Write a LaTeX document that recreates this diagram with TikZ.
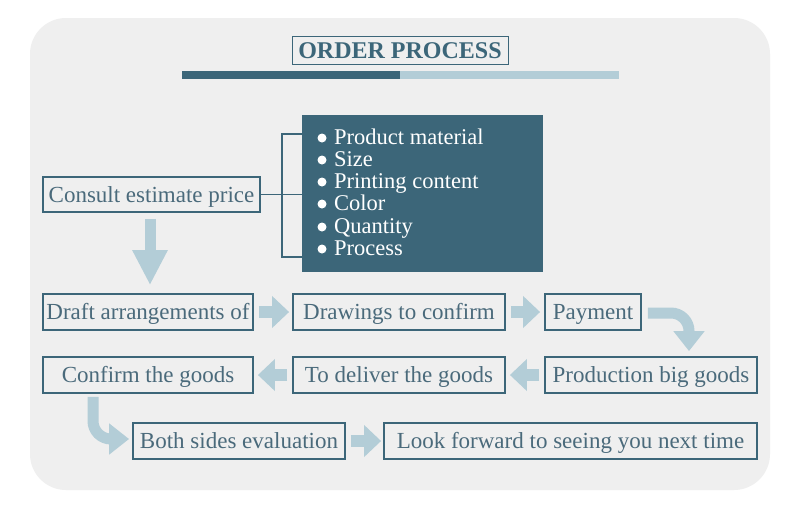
\documentclass[tikz,border=0pt]{standalone}
\usepackage{fontspec}
\setmainfont{Liberation Serif}
\usetikzlibrary{arrows.meta}
\definecolor{darkc}{HTML}{3C6679}
\definecolor{textc}{HTML}{4A6A7B}
\definecolor{lightc}{HTML}{B3CDD7}
\definecolor{bgc}{HTML}{EFEFEF}
\tikzset{
  stepbox/.style={draw=darkc, line width=1.8pt, fill=bgc, inner sep=0pt, text=textc,
    font=\fontsize{23}{26}\selectfont, anchor=center, text height=17pt, text depth=2pt},
  fatarrow/.style={draw=lightc, line width=12pt, line cap=butt,
    -{Triangle[width=31pt,length=17pt]}},
  bentarrow/.style={draw=lightc, line width=11pt, line cap=butt, rounded corners=18pt,
    -{Triangle[width=30pt,length=20pt]}},
  bullettext/.style={text=white, font=\fontsize{22.5}{26}\selectfont, anchor=base west, inner sep=0pt},
  dot/.style={circle, fill=white, minimum size=9pt, inner sep=0pt}
}
\begin{document}
\begin{tikzpicture}[x=1pt,y=-1pt]
\useasboundingbox (0,0) rectangle (800,507);
\fill[white] (0,0) rectangle (800,507);
\fill[bgc, rounded corners=36pt] (30,18) rectangle (770,490);

% title
\node[draw=darkc, line width=1pt, inner sep=0pt, minimum width=216pt, minimum height=28pt,
  text=darkc, font=\fontsize{24}{26}\selectfont\bfseries, text height=16pt, text depth=0pt] (title) at (400,50) {ORDER PROCESS};
\fill[darkc] (182,71) rectangle (400,79);
\fill[lightc] (400,71) rectangle (619,79);

% consult and list
\node[stepbox, minimum width=217pt, minimum height=35pt] (consult) at (151.5,194.5) {Consult estimate price};
\node[fill=darkc, minimum width=241pt, minimum height=157pt, inner sep=0pt] (list) at (422.5,193.5) {};
\coordinate (brk) at (282,0);
\coordinate (ltop) at (302,134);
\coordinate (lbot) at (302,257);
\draw[darkc, line width=1.8pt] (ltop) -- (ltop -| brk) -- (lbot -| brk) -- (lbot);
\draw[darkc, line width=1.8pt] (consult.east) -- (consult.east -| list.west);
\foreach \t/\y [count=\i] in {Product material/138, Size/160, Printing content/182, Color/204, Quantity/227, Process/249}{
  \node[dot] (d\i) at (322,\y) {};
  \node[bullettext] (b\i) at (334,\y+6) {\t};
}

% row 2
\node[stepbox, minimum width=210pt, minimum height=36pt] (draft) at (148,312) {Draft arrangements of};
\node[stepbox, minimum width=212pt, minimum height=36pt] (drawings) at (399,312) {Drawings to confirm};
\node[stepbox, minimum width=96pt, minimum height=36pt] (payment) at (593,312) {Payment};
% row 3
\node[stepbox, minimum width=210pt, minimum height=36pt] (confirm) at (148,375) {Confirm the goods};
\node[stepbox, minimum width=212pt, minimum height=36pt] (deliver) at (399,375) {To deliver the goods};
\node[stepbox, minimum width=212pt, minimum height=36pt] (production) at (651,375) {Production big goods};
% row 4
\node[stepbox, minimum width=212pt, minimum height=36pt] (both) at (239,441) {Both sides evaluation};
\node[stepbox, minimum width=373pt, minimum height=36pt] (look) at (570.5,441) {Look forward to seeing you next time};

% arrows
\coordinate (downx) at (150,0);
\draw[draw=lightc, line width=11pt, -{Triangle[width=33pt,length=35pt]}]
  ([yshift=-6pt]consult.south -| downx) -- ([yshift=8pt]draft.north -| downx);
\draw[fatarrow] ([xshift=5pt]draft.east) -- ([xshift=-3pt]drawings.west);
\draw[fatarrow] ([xshift=5pt]drawings.east) -- ([xshift=-4pt]payment.west);
\draw[fatarrow] ([xshift=-5pt]production.west) -- ([xshift=4pt]deliver.east);
\draw[fatarrow] ([xshift=-5pt]deliver.west) -- ([xshift=4pt]confirm.east);
\draw[fatarrow] ([xshift=5pt]both.east) -- ([xshift=-2pt]look.west);

\coordinate (pturn) at (689,0);
\draw[bentarrow] ([xshift=6pt,yshift=-1pt]payment.east) -| ([yshift=5pt]production.north -| pturn);
\coordinate (cturn) at (93,0);
\draw[bentarrow] ([yshift=-3pt]confirm.south -| cturn) |- ([xshift=-3pt,yshift=2pt]both.west);
\end{tikzpicture}
\end{document}
